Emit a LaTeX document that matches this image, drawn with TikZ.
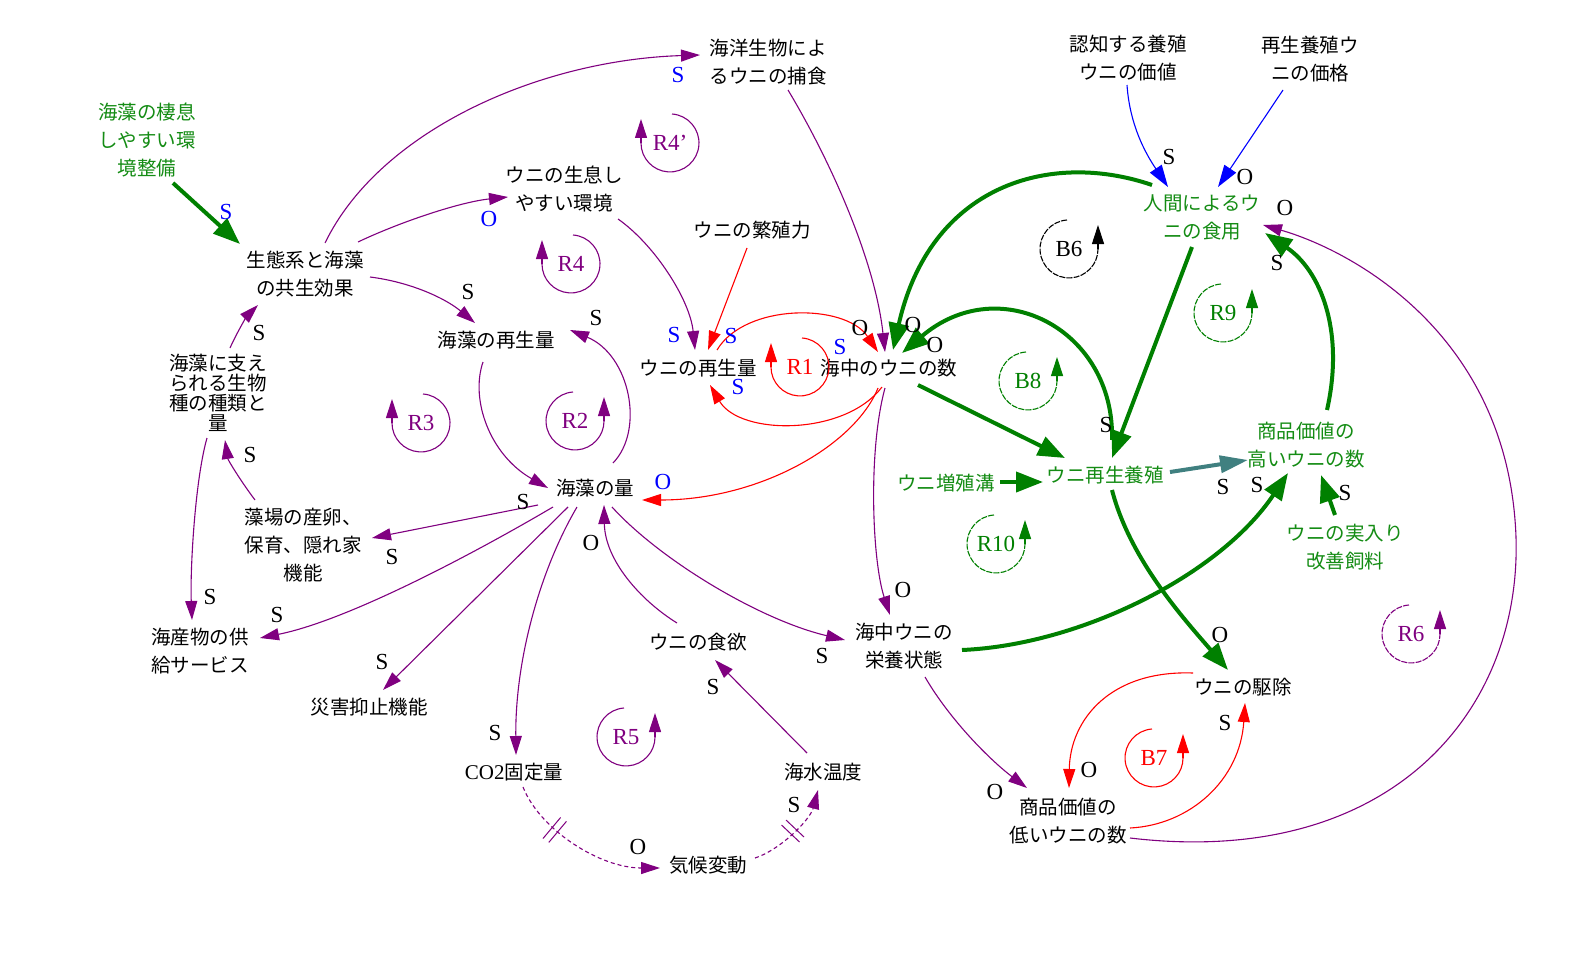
\documentclass[tikz,border=0pt]{standalone}
\usepackage{fontspec}
\setmainfont{Liberation Serif}
\newfontfamily\jpfont{Noto Sans CJK JP}
\usetikzlibrary{arrows.meta,calc}
\definecolor{cpur}{RGB}{128,0,128}
\definecolor{cred}{RGB}{255,0,0}
\definecolor{cgrn}{RGB}{0,128,0}
\definecolor{ctxtg}{RGB}{20,140,20}
\definecolor{cblu}{RGB}{0,0,255}
\definecolor{cteal}{RGB}{64,128,128}
\newcommand\myloopL[5]{%
  \draw[#4,line width=1.1pt,#5] ($(#2)+(2,-29)$) arc[start angle=-86,end angle=180,radius=29];
  \draw[#4,line width=1.1pt,-{Triangle[length=19pt,width=12pt]}] ($(#2)+(-29,0)$) -- ++(0,-24);
  \node[lab,text=#4] (#1) at (#2) {#3};}
\newcommand\myloopR[5]{%
  \draw[#4,line width=1.1pt,#5] ($(#2)+(-2,-29)$) arc[start angle=-94,end angle=-360,radius=29];
  \draw[#4,line width=1.1pt,-{Triangle[length=19pt,width=12pt]}] ($(#2)+(29,0)$) -- ++(0,-24);
  \node[lab,text=#4] (#1) at (#2) {#3};}
\begin{document}
\begin{tikzpicture}[x=1pt,y=-1pt,
  jn/.style={font={\jpfont\fontsize{19.5}{28}\selectfont},align=center,inner sep=0pt},
  jg/.style={jn,text=ctxtg},
  pol/.style={font={\fontsize{23}{23}\selectfont},inner sep=0pt},
  polb/.style={pol,text=cblu},
  lab/.style={font={\fontsize{23}{23}\selectfont},inner sep=0pt},
  pl/.style={draw=cpur,line width=1.1pt,-{Triangle[length=19pt,width=12pt]}},
  rl/.style={draw=cred,line width=1.1pt,-{Triangle[length=19pt,width=12pt]}},
  bl/.style={draw=cblu,line width=1.1pt,-{Triangle[length=22pt,width=14pt]}},
  gl/.style={draw=cgrn,line width=4pt,-{Triangle[length=27pt,width=20pt]}},
  tl/.style={draw=cteal,line width=4pt,-{Triangle[length=28pt,width=17pt]}},
  dl/.style={pl,dash pattern=on 4pt off 3pt},
  dm/.style={draw=cpur,line width=1pt},
  lpd/.style={dash pattern=on 6pt off 1.2pt}
]
\fill[white] (0,0) rectangle (1579,955);
\useasboundingbox (0,0) rectangle (1579,955);

% nodes
\node[jg] (seisoku) at (147,140) {海藻の棲息\\しやすい環\\境整備};
\node[jn] (seitai) at (305,274) {生態系と海藻\\の共生効果};
\node[jn] (hosyoku) at (768,62) {海洋生物によ\\るウニの捕食};
\node[jn] (unikankyo) at (564,189) {ウニの生息し\\やすい環境};
\node[jn] (hanshoku) at (752,230) {ウニの繁殖力};
\node[jn] (kaisousaisei) at (496,340) {海藻の再生量};
\node[jn] (unisaisei) at (698,368) {ウニの再生量};
\node[jn] (kaichu) at (889,368) {海中のウニの数};
\node[jn,font={\jpfont\fontsize{19.5}{20}\selectfont}] (sasae) at (218,393) {海藻に支え\\られる生物\\種の種類と\\量};
\node[jn] (moba) at (303,545) {藻場の産卵、\\保育、隠れ家\\機能};
\node[jn] (kaisouryou) at (595,488) {海藻の量};
\node[jn] (kaisanbutsu) at (200,651) {海産物の供\\給サービス};
\node[jn] (saigai) at (369,707) {災害抑止機能};
\node[jn] (co2) at (514,772) {{\rmfamily\fontsize{21}{21}\selectfont CO2}固定量};
\node[jn] (shokuyoku) at (698,642) {ウニの食欲};
\node[jn] (suion) at (823,772) {海水温度};
\node[jn] (kikou) at (708,865) {気候変動};
\node[jn] (eiyou) at (904,646) {海中ウニの\\栄養状態};
\node[jn] (hikui) at (1068,821) {商品価値の\\低いウニの数};
\node[jn] (kujo) at (1243,687) {ウニの駆除};
\node[jn] (ninchi) at (1128,58) {認知する養殖\\ウニの価値};
\node[jn] (kakaku) at (1310,59) {再生養殖ウ\\ニの価格};
\node[jg] (ningen) at (1202,217) {人間によるウ\\ニの食用};
\node[jg] (yoshoku) at (1105,475) {ウニ再生養殖};
\node[jg] (zoshoku) at (946,483) {ウニ増殖溝};
\node[jg] (takai) at (1306,445) {商品価値の\\高いウニの数};
\node[jg] (shiryou) at (1345,547) {ウニの実入り\\改善飼料};

% connectors
\draw[gl] ($(seisoku)+(26,43)$) -- ($(seitai)+(-65,-30)$);
\draw[pl] ($(seitai)+(20,-31)$) .. controls (380,130) and (540,60) .. ($(hosyoku)+(-68,-7)$);
\draw[pl] ($(seitai)+(53,-32)$) .. controls (400,222) and (460,202) .. ($(unikankyo)+(-56,8)$);
\draw[pl] ($(seitai)+(65,3)$) .. controls (410,282) and (445,298) .. ($(kaisousaisei)+(-21,-17)$);
\draw[pl] ($(hosyoku)+(20,28)$) .. controls (830,160) and (875,260) .. ($(kaichu)+(-4,-16)$);
\draw[pl] ($(unikankyo)+(54,30)$) .. controls (655,245) and (690,300) .. ($(unisaisei)+(-3,-18)$);
\draw[rl] ($(hanshoku)+(-5,18)$) -- ($(unisaisei)+(10,-18)$);
\draw[rl] ($(unisaisei)+(19,-18)$) .. controls (745,303) and (845,303) .. ($(kaichu)+(-11,-16)$);
\draw[rl] ($(kaichu)+(-7,19)$) .. controls (845,436) and (740,436) .. ($(unisaisei)+(12,17)$);
\draw[rl] ($(kaichu)+(-11,20)$) .. controls (855,445) and (760,500) .. ($(kaisouryou)+(47,12)$);
\draw[pl] ($(kaichu)+(-4,20)$) .. controls (868,450) and (872,560) .. ($(eiyou)+(-14,-31)$);
\draw[gl] ($(kaichu)+(29,17)$) -- ($(yoshoku)+(-40,-17)$);
\draw[gl] ($(ningen)+(-50,-32)$) .. controls (1050,150) and (930,185) .. ($(kaichu)+(4,-18)$);
\draw[gl] ($(yoshoku)+(7,-35)$) .. controls (1115,330) and (1000,270) .. ($(kaichu)+(13,-15)$);
\draw[gl] ($(ningen)+(-10,30)$) -- ($(yoshoku)+(7,-17)$);
\draw[gl] ($(zoshoku)+(54,-1)$) -- ($(yoshoku)+(-62,7)$);
\draw[tl] ($(yoshoku)+(65,-3)$) -- ($(takai)+(-58,15)$);
\draw[gl] ($(eiyou)+(58,4)$) .. controls (1080,645) and (1220,575) .. ($(takai)+(-18,28)$);
\draw[gl] ($(yoshoku)+(7,15)$) .. controls (1130,560) and (1185,620) .. ($(kujo)+(-15,-17)$);
\draw[gl] ($(shiryou)+(-10,-32)$) -- ($(takai)+(15,30)$);
\draw[gl] ($(takai)+(21,-35)$) .. controls (1345,330) and (1320,270) .. ($(ningen)+(63,16)$);
\draw[bl] ($(ninchi)+(-1,27)$) .. controls (1130,130) and (1150,160) .. ($(ningen)+(-34,-30)$);
\draw[bl] ($(kakaku)+(-27,31)$) -- ($(ningen)+(16,-30)$);
\draw[pl] ($(hikui)+(62,17)$) .. controls (1400,870) and (1530,700) .. (1515,520) .. controls (1500,330) and (1350,250) .. ($(ningen)+(61,8)$);
\draw[pl] ($(eiyou)+(21,31)$) .. controls (950,720) and (990,760) .. ($(hikui)+(-41,-33)$);
\draw[rl] ($(kujo)+(-50,-14)$) .. controls (1110,670) and (1070,720) .. ($(hikui)+(1,-33)$);
\draw[rl] ($(hikui)+(62,7)$) .. controls (1190,825) and (1240,780) .. ($(kujo)+(2,16)$);
\draw[pl] ($(kaisouryou)+(18,-25)$) .. controls (645,430) and (630,355) .. ($(kaisousaisei)+(74,-10)$);
\draw[pl] ($(kaisousaisei)+(-13,22)$) .. controls (470,400) and (490,455) .. ($(kaisouryou)+(-47,0)$);
\draw[pl] ($(kaisouryou)+(-57,17)$) -- ($(moba)+(69,-7)$);
\draw[pl] ($(kaisouryou)+(-42,19)$) .. controls (480,550) and (350,620) .. ($(kaisanbutsu)+(60,-13)$);
\draw[pl] ($(kaisouryou)+(-27,19)$) -- ($(saigai)+(14,-17)$);
\draw[pl] ($(kaisouryou)+(-18,19)$) .. controls (540,570) and (515,660) .. ($(co2)+(2,-17)$);
\draw[pl] ($(kaisouryou)+(17,19)$) .. controls (660,560) and (760,620) .. ($(eiyou)+(-59,-6)$);
\draw[pl] ($(shokuyoku)+(-21,-19)$) .. controls (640,600) and (605,560) .. ($(kaisouryou)+(9,17)$);
\draw[pl] ($(suion)+(-16,-19)$) -- ($(shokuyoku)+(17,18)$);
\draw[dl] ($(co2)+(9,15)$) .. controls (540,830) and (600,868) .. ($(kikou)+(-48,3)$);
\draw[dl] ($(kikou)+(47,-7)$) .. controls (780,850) and (810,820) .. ($(suion)+(-5,18)$);
\draw[pl] ($(moba)+(-48,-45)$) .. controls (240,480) and (228,460) .. ($(sasae)+(7,47)$);
\draw[pl] ($(sasae)+(12,-45)$) .. controls (238,330) and (248,315) .. ($(seitai)+(-47,31)$);
\draw[pl] ($(sasae)+(-11,45)$) .. controls (195,480) and (190,570) .. ($(kaisanbutsu)+(-8,-31)$);

% delay marks
\draw[dm] (543,838.5) -- (560.6,817.5);
\draw[dm] (548.8,842.4) -- (566.4,821.4);
\draw[dm] (781.5,825) -- (799.5,842);
\draw[dm] (786,820) -- (804,837);

% polarity labels
\node[polb] (p1) at (226,212) {S};
\node[polb] (p2) at (489,219) {O};
\node[polb] (p3) at (678,75) {S};
\node[polb] (p4) at (674,335) {S};
\node[polb] (p5) at (731,336) {S};
\node[polb] (p6) at (738,387) {S};
\node[polb] (p7) at (840,347) {S};
\node[polb] (p8) at (663,482) {O};
\node[pol] (p9) at (468,292) {S};
\node[pol] (p10) at (596,318) {S};
\node[pol] (p11) at (259,333) {S};
\node[pol] (p12) at (250,455) {S};
\node[pol] (p13) at (523,502) {S};
\node[pol] (p14) at (392,557) {S};
\node[pol] (p15) at (210,597) {S};
\node[pol] (p16) at (277,615) {S};
\node[pol] (p17) at (382,662) {S};
\node[pol] (p18) at (495,733) {S};
\node[pol] (p19) at (591,543) {O};
\node[pol] (p20) at (713,687) {S};
\node[pol] (p21) at (822,656) {S};
\node[pol] (p22) at (638,847) {O};
\node[pol] (p23) at (794,805) {S};
\node[pol] (p24) at (903,590) {O};
\node[pol] (p25) at (860,328) {O};
\node[pol] (p26) at (913,325) {O};
\node[pol] (p27) at (935,345) {O};
\node[pol] (p28) at (1106,425) {S};
\node[pol] (p29) at (1223,487) {S};
\node[pol] (p30) at (1257,485) {S};
\node[pol] (p31) at (1345,493) {S};
\node[pol] (p32) at (1169,157) {S};
\node[pol] (p33) at (1245,177) {O};
\node[pol] (p34) at (1285,208) {O};
\node[pol] (p35) at (1277,263) {S};
\node[pol] (p36) at (1220,635) {O};
\node[pol] (p37) at (995,792) {O};
\node[pol] (p38) at (1089,770) {O};
\node[pol] (p39) at (1225,723) {S};

% loop markers
\myloopL{l4p}{670,143}{R4'}{cpur}{}
\myloopL{l4}{571,264}{R4}{cpur}{}
\myloopL{l3}{421,423}{R3}{cpur}{}
\myloopR{l2}{575,421}{R2}{cpur}{}
\myloopL{l1}{800,367}{R1}{cred}{}
\myloopR{b6}{1069,249}{B6}{black}{lpd}
\myloopR{r9}{1223,313}{R9}{cgrn}{lpd}
\myloopR{b8}{1028,381}{B8}{cgrn}{lpd}
\myloopR{r10}{996,544}{R10}{cgrn}{lpd}
\myloopR{r5}{626,737}{R5}{cpur}{}
\myloopR{b7}{1154,758}{B7}{cred}{}
\myloopR{r6}{1411,634}{R6}{cpur}{lpd}
\end{tikzpicture}
\end{document}
